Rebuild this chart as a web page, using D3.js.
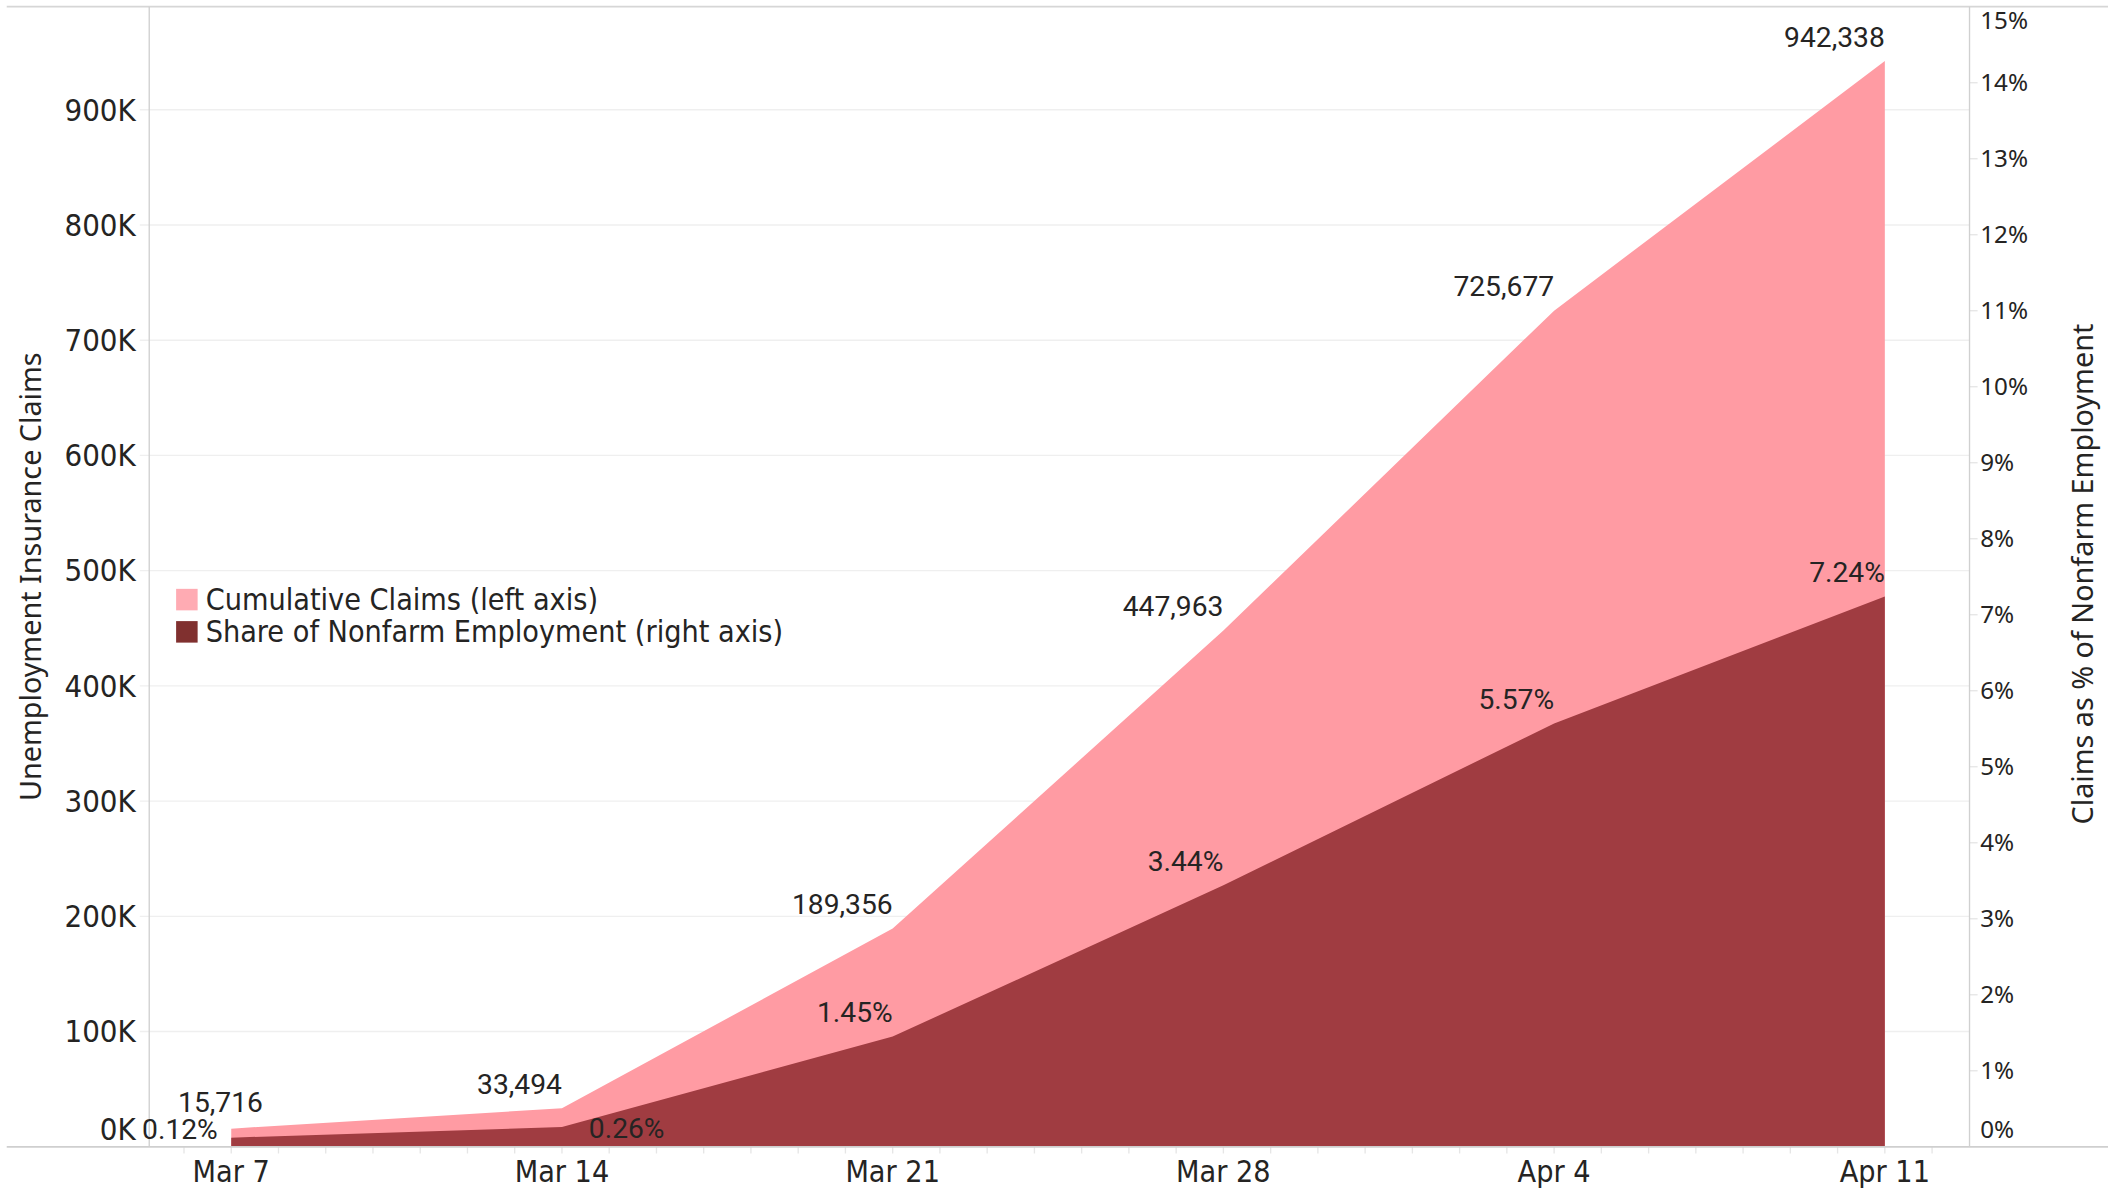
<!DOCTYPE html>
<html>
<head>
<meta charset="utf-8">
<script src="https://cdn.jsdelivr.net/npm/d3@7"></script>
<style>
  html, body { margin: 0; padding: 0; background: #ffffff; }
  svg { display: block; }
</style>
</head>
<body>
<svg id="chart"></svg>
<script>
// ---- Data ----
const weekDates = ["2020-03-07", "2020-03-14", "2020-03-21", "2020-03-28", "2020-04-04", "2020-04-11"];
const cumulativeClaims = [15716, 33494, 189356, 447963, 725677, 942338];
const shareOfEmployment = [0.12, 0.26, 1.45, 3.44, 5.57, 7.24]; // percent
const leftTicks = [0, 100000, 200000, 300000, 400000, 500000, 600000, 700000, 800000, 900000];
const rightTicks = [0, 1, 2, 3, 4, 5, 6, 7, 8, 9, 10, 11, 12, 13, 14, 15];
const legendLabels = ["Cumulative Claims (left axis)", "Share of Nonfarm Employment (right axis)"];
const leftTitle = "Unemployment Insurance Claims";
const rightTitle = "Claims as % of Nonfarm Employment";

// ---- Layout (in a 1568-wide design space, scaled to 2108x1190) ----
const W = 1568, H = 1190 * 1568 / 2108;
const svg = d3.select("#chart")
  .attr("width", 2108).attr("height", 1190)
  .attr("viewBox", `0 0 ${W} ${H}`);

const plot = { left: 111, right: 1465, top: 5, bottom: 853 };
const FONT_DIN = "'Liberation Sans Narrow','DejaVu Sans Condensed','Roboto Condensed',Roboto,sans-serif";
const FONT_UI = "'Noto Sans','Open Sans',sans-serif";
const FONT_LBL = "Roboto,'Noto Sans',sans-serif";
const textColor = "#252423";
const pink = "#FF9BA3", dark = "#A03C41";
const pinkLegend = "#FFABB3", darkLegend = "#80302F";

const parse = d3.timeParse("%Y-%m-%d");
const data = weekDates.map((d, i) => ({ date: parse(d), claims: cumulativeClaims[i], share: shareOfEmployment[i] }));

const x = d3.scaleTime()
  .domain(d3.extent(data, d => d.date))
  .range([172, 1402]);
const yL = d3.scaleLinear()
  .domain([0, d3.max(cumulativeClaims) * 1.05])
  .range([plot.bottom, plot.top]);
const yR = d3.scaleLinear()
  .domain([0, 15])
  .range([plot.bottom, plot.top]);

// Gridlines (left axis)
svg.append("g").selectAll("line")
  .data(leftTicks.filter(t => t > 0))
  .join("line")
  .attr("x1", plot.left - 7).attr("x2", plot.right)
  .attr("y1", d => yL(d)).attr("y2", d => yL(d))
  .attr("stroke", "#efefef").attr("stroke-width", 1);

// Right axis tick marks
svg.append("g").selectAll("line")
  .data(rightTicks.filter(t => t > 0 && t < 15))
  .join("line")
  .attr("x1", plot.right).attr("x2", plot.right + 6)
  .attr("y1", d => yR(d)).attr("y2", d => yR(d))
  .attr("stroke", "#e6e6e6").attr("stroke-width", 1);

// Daily minor ticks on x axis
const dayTicks = d3.timeDay.range(d3.timeDay.offset(x.domain()[0], -2), d3.timeDay.offset(x.domain()[1], 3))
  .filter(d => x(d) > plot.left && x(d) < plot.right);
svg.append("g").selectAll("line")
  .data(dayTicks)
  .join("line")
  .attr("x1", d => x(d)).attr("x2", d => x(d))
  .attr("y1", plot.bottom).attr("y2", plot.bottom + 5)
  .attr("stroke", "#e6e6e6").attr("stroke-width", 1);

// Areas
const areaClaims = d3.area().x(d => x(d.date)).y0(yL(0)).y1(d => yL(d.claims));
const areaShare = d3.area().x(d => x(d.date)).y0(yR(0)).y1(d => yR(d.share));
svg.append("path").datum(data).attr("d", areaClaims).attr("fill", pink);
svg.append("path").datum(data).attr("d", areaShare).attr("fill", dark);

// Axis frame lines
svg.append("line").attr("x1", 5).attr("x2", W).attr("y1", plot.top).attr("y2", plot.top)
  .attr("stroke", "#d6d6d6").attr("stroke-width", 1.3);
svg.append("line").attr("x1", 5).attr("x2", W).attr("y1", plot.bottom).attr("y2", plot.bottom)
  .attr("stroke", "#cfcfcf").attr("stroke-width", 1.3);
svg.append("line").attr("x1", plot.left).attr("x2", plot.left).attr("y1", plot.top).attr("y2", plot.bottom)
  .attr("stroke", "#d0d0d0").attr("stroke-width", 1);
svg.append("line").attr("x1", plot.right).attr("x2", plot.right).attr("y1", plot.top).attr("y2", plot.bottom)
  .attr("stroke", "#d0d0d0").attr("stroke-width", 1);

// Left tick labels
const fmtK = d => d3.format(".0f")(d / 1000) + "K";
svg.append("g").selectAll("text")
  .data(leftTicks)
  .join("text")
  .attr("x", plot.left - 10)
  .attr("y", d => d === 0 ? yL(d) - 13 : yL(d))
  .attr("dy", "0.35em")
  .attr("text-anchor", "end")
  .attr("font-family", FONT_DIN).attr("font-size", 23)
  .attr("fill", textColor)
  .text(fmtK);

// Right tick labels
svg.append("g").selectAll("text")
  .data(rightTicks)
  .join("text")
  .attr("x", plot.right + 8)
  .attr("y", d => d === 0 ? yR(d) - 13 : (d === 15 ? yR(d) + 10 : yR(d)))
  .attr("dy", "0.35em")
  .attr("text-anchor", "start")
  .attr("font-family", FONT_UI).attr("font-size", 18)
  .attr("fill", textColor)
  .text(d => d + "%");

// X tick labels
const fmtDate = d3.timeFormat("%b %-d");
svg.append("g").selectAll("text")
  .data(data)
  .join("text")
  .attr("x", d => x(d.date))
  .attr("y", 871)
  .attr("dy", "0.35em")
  .attr("text-anchor", "middle")
  .attr("font-family", FONT_DIN).attr("font-size", 22.5)
  .attr("fill", textColor)
  .text(d => fmtDate(d.date));

// Axis titles
svg.append("text")
  .attr("transform", `translate(23,429) rotate(-90)`)
  .attr("dy", "0.35em")
  .attr("text-anchor", "middle")
  .attr("font-family", FONT_UI).attr("font-size", 21.4)
  .attr("fill", textColor)
  .text(leftTitle);
svg.append("text")
  .attr("transform", `translate(1549,427) rotate(-90)`)
  .attr("dy", "0.35em")
  .attr("text-anchor", "middle")
  .attr("font-family", FONT_UI).attr("font-size", 21.4)
  .attr("fill", textColor)
  .text(rightTitle);

// Data labels: claims
const fmtN = d3.format(",");
svg.append("g").selectAll("text")
  .data(data)
  .join("text")
  .attr("x", (d, i) => i === 0 ? x(d.date) - 8 : x(d.date))
  .attr("y", (d, i) => yL(d.claims) - (i === 0 ? 20 : 18))
  .attr("dy", "0.35em")
  .attr("text-anchor", (d, i) => i === 0 ? "middle" : "end")
  .attr("font-family", FONT_LBL).attr("font-size", 21)
  .attr("fill", textColor)
  .text(d => fmtN(d.claims));

// Data labels: share
svg.append("g").selectAll("text")
  .data(data)
  .join("text")
  .attr("x", (d, i) => i === 0 ? x(d.date) - 10 : (i === 1 ? x(d.date) + 20 : x(d.date)))
  .attr("y", (d, i) => i === 0 ? yR(d.share) - 6 : (i === 1 ? yR(d.share) + 1 : yR(d.share) - 18))
  .attr("dy", "0.35em")
  .attr("text-anchor", (d, i) => i === 1 ? "start" : "end")
  .attr("font-family", FONT_LBL).attr("font-size", 21)
  .attr("fill", textColor)
  .text(d => d.share.toFixed(2) + "%");

// Legend
const legend = svg.append("g").attr("transform", "translate(131,446)");
const legendColors = [pinkLegend, darkLegend];
legendLabels.forEach((lbl, i) => {
  const g = legend.append("g").attr("transform", `translate(0,${i * 24})`);
  g.append("rect").attr("x", 0).attr("y", -8).attr("width", 16).attr("height", 16).attr("fill", legendColors[i]);
  g.append("text").attr("x", 22).attr("y", 0).attr("dy", "0.35em")
    .attr("font-family", FONT_DIN).attr("font-size", 22.5)
    .attr("fill", textColor).text(lbl);
});
</script>
</body>
</html>
